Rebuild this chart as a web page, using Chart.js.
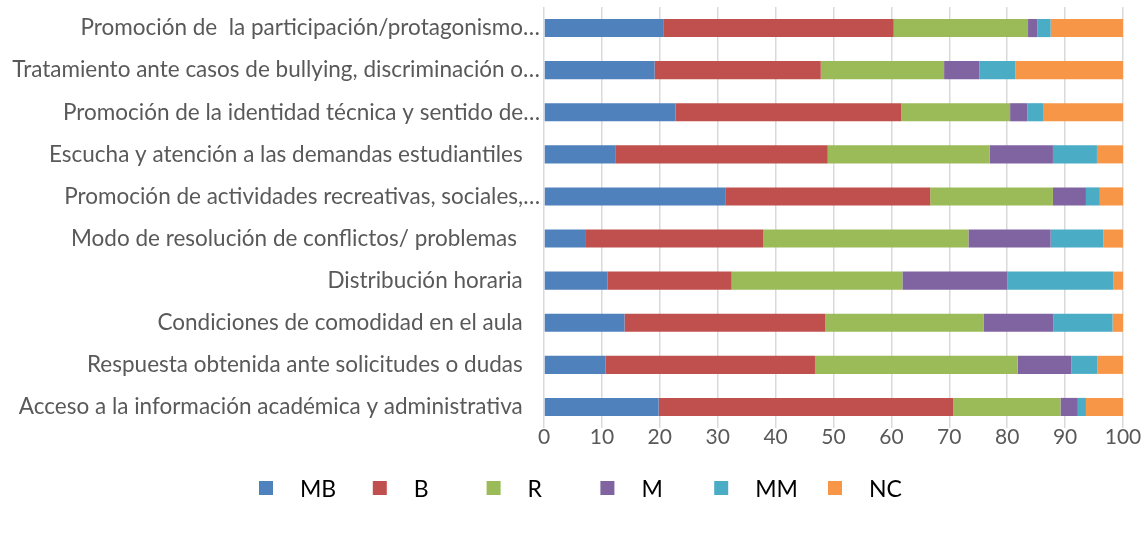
<!DOCTYPE html>
<html>
<head>
<meta charset="utf-8">
<script src="https://cdn.jsdelivr.net/npm/chart.js@4.4.1/dist/chart.umd.min.js"></script>
<style>
  html, body { margin: 0; padding: 0; background: #fff; }
  #wrap { width: 1148px; height: 533px; }
</style>
</head>
<body>
<div id="wrap"><canvas id="satisfaccionChart"></canvas></div>
<script>
// Aspectos evaluados (de arriba hacia abajo)
var categorias = [
    'Promoción de  la participación/protagonismo…',
    'Tratamiento ante casos de bullying, discriminación o…',
    'Promoción de la identidad técnica y sentido de…',
    'Escucha y atención a las demandas estudiantiles',
    'Promoción de actividades recreativas, sociales,…',
    'Modo de resolución de conflictos/ problemas ',
    'Distribución horaria',
    'Condiciones de comodidad en el aula',
    'Respuesta obtenida ante solicitudes o dudas',
    'Acceso a la información académica y administrativa'
];

// Porcentajes por respuesta
var MB = [20.7, 19.1, 22.7, 12.3, 31.3, 7.1, 11.0, 13.9, 10.6, 19.8];
var B  = [39.7, 28.7, 39.0, 36.7, 35.4, 30.8, 21.4, 34.7, 36.2, 50.9];
var R  = [23.2, 21.3, 18.8, 28.0, 21.2, 35.4, 29.5, 27.3, 35.0, 18.5];
var M  = [1.6, 6.1, 3.0, 10.9, 5.7, 14.2, 18.1, 12.1, 9.3, 3.0];
var MM = [2.3, 6.2, 2.8, 7.6, 2.4, 9.1, 18.3, 10.2, 4.5, 1.4];
var NC = [12.5, 18.6, 13.7, 4.5, 4.0, 3.4, 1.7, 1.8, 4.4, 6.4];

var series = ['MB', 'B', 'R', 'M', 'MM', 'NC'];
var colores = ['#4f81bd', '#c0504d', '#9bbb59', '#8064a2', '#4bacc6', '#f79646'];
var valores = [MB, B, R, M, MM, NC];

var gris = '#595959';
var fuente = 'Lato, "Noto Sans", sans-serif';

// leyenda propia con espaciado fijo entre elementos
var leyendaFija = {
    id: 'leyendaFija',
    afterDraw: function (chart) {
        var ctx = chart.ctx;
        var paso = 113.8;
        var inicio = chart.width / 2 - 315;
        var y = 488;
        ctx.save();
        ctx.font = '23px ' + fuente;
        ctx.textBaseline = 'middle';
        ctx.textAlign = 'left';
        chart.data.datasets.forEach(function (ds, i) {
            var x = inicio + i * paso;
            ctx.fillStyle = ds.backgroundColor;
            ctx.fillRect(x, y - 7, 14, 14);
            ctx.fillStyle = '#000';
            ctx.fillText(ds.label, x + 41, y + 2);
        });
        ctx.restore();
    }
};

window.addEventListener('load', function () {
    var ctx = document.getElementById('satisfaccionChart');

    var chartData = {
        labels: categorias,
        datasets: series.map(function (nombre, i) {
            return {
                label: nombre,
                data: valores[i],
                backgroundColor: colores[i],
                borderWidth: 0,
                barPercentage: 0.43,
                categoryPercentage: 1.0
            };
        })
    };

    var config = {
        type: 'bar',
        data: chartData,
        options: {
            indexAxis: 'y',
            responsive: true,
            maintainAspectRatio: false,
            animation: false,
            layout: { padding: { top: 7, right: 25, bottom: 75, left: 0 } },
            plugins: {
                legend: { display: false },
                tooltip: { enabled: false }
            },
            scales: {
                x: {
                    stacked: true,
                    min: 0,
                    max: 100,
                    ticks: {
                        stepSize: 10,
                        color: gris,
                        padding: -3,
                        font: { family: fuente, size: 21 }
                    },
                    grid: { color: '#d9d9d9', lineWidth: 1.5, drawTicks: false },
                    border: { display: false },
                    afterFit: function (scale) { scale.height = 30; }
                },
                y: {
                    stacked: true,
                    ticks: {
                        color: gris,
                        padding: 4,
                        autoSkip: false,
                        font: { family: fuente, size: 22.5 },
                        // las etiquetas recortadas (…) llegan más cerca del eje
                        callback: function (value) {
                            var t = this.getLabelForValue(value);
                            return t.slice(-1) === '…' ? t : t + '   ';
                        }
                    },
                    grid: { display: false, drawTicks: false },
                    border: { display: false },
                    afterFit: function (scale) {
                        scale.width = 544;
                        scale.paddingTop = 0;
                        scale.paddingBottom = 0;
                    }
                }
            }
        },
        plugins: [leyendaFija]
    };

    new Chart(ctx, config);
});
</script>
</body>
</html>
